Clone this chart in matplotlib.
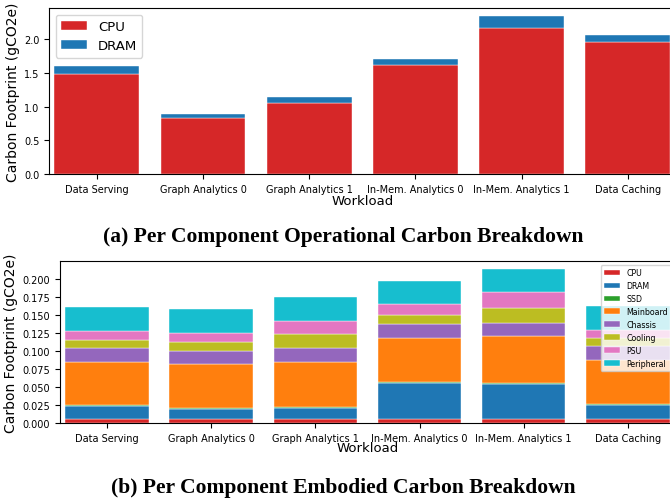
import numpy as np
import matplotlib.pyplot as plt

# --------------------------------------------------
# Carbon footprint per workload (gCO2e)
# --------------------------------------------------

workloads = [
    "Data Serving",
    "Graph Analytics 0",
    "Graph Analytics 1",
    "In-Mem. Analytics 0",
    "In-Mem. Analytics 1",
    "Data Caching"
]

# Operational carbon
op_cpu = [1.49, 0.835, 1.06, 1.615, 2.175, 1.96]
op_dram = [0.11, 0.05, 0.09, 0.095, 0.175, 0.105]

# Embodied carbon, one list per component (bottom to top)
emb_cpu = [0.006, 0.006, 0.006, 0.006, 0.006, 0.006]
emb_dram = [0.018, 0.0133, 0.0147, 0.0501, 0.0483, 0.0197]
emb_ssd = [0.001, 0.0014, 0.0018, 0.0014, 0.0009, 0.001]
emb_mainboard = [0.0605, 0.0616, 0.063, 0.0611, 0.0653, 0.0611]
emb_chassis = [0.0189, 0.0179, 0.0189, 0.0189, 0.0193, 0.0189]
emb_cooling = [0.0115, 0.0129, 0.0193, 0.0133, 0.0202, 0.0115]
emb_psu = [0.0128, 0.0124, 0.0179, 0.0143, 0.0221, 0.0119]
emb_peripheral = [0.0327, 0.0331, 0.0331, 0.0331, 0.0326, 0.0322]

components = ["CPU", "DRAM", "SSD", "Mainboard", "Chassis",
              "Cooling", "PSU", "Peripheral"]
comp_colors = ["tab:red", "tab:blue", "tab:green", "tab:orange",
               "tab:purple", "tab:olive", "tab:pink", "tab:cyan"]
embodied = [emb_cpu, emb_dram, emb_ssd, emb_mainboard, emb_chassis,
            emb_cooling, emb_psu, emb_peripheral]

x = np.arange(len(workloads))
bar_kw = dict(width=0.8, edgecolor="white", linewidth=0.3)

fig = plt.figure(figsize=(6.7, 5.02), dpi=100)

# --------------------------------------------------
# (a) operational carbon
# --------------------------------------------------
ax1 = fig.add_axes([49 / 670, 327 / 502, 626.6 / 670, 166 / 502])
ax1.bar(x, op_cpu, color="tab:red", label="CPU", **bar_kw)
ax1.bar(x, op_dram, bottom=op_cpu, color="tab:blue", label="DRAM", **bar_kw)
ax1.set_xlim(-0.45, 5.45)
ax1.set_xticks(x)
ax1.set_xticklabels(workloads, fontsize=7)
ax1.tick_params(axis="y", labelsize=7)
ax1.set_yticks([0.0, 0.5, 1.0, 1.5, 2.0])
ax1.set_xlabel("Workload", fontsize=9.5, labelpad=0)
ax1.set_ylabel("Carbon Footprint (gCO2e)", fontsize=10, labelpad=3)
ax1.legend(loc="upper left", fontsize=9.5)

# --------------------------------------------------
# (b) embodied carbon
# --------------------------------------------------
ax2 = fig.add_axes([60 / 670, 78 / 502, 614.8 / 670, 162 / 502])
bottom = np.zeros(len(workloads))
for name, vals, col in zip(components, embodied, comp_colors):
    ax2.bar(x, vals, bottom=bottom, color=col, label=name, **bar_kw)
    bottom += np.array(vals)
ax2.set_xlim(-0.45, 5.45)
ax2.set_xticks(x)
ax2.set_xticklabels(workloads, fontsize=7)
ax2.set_yticks(np.arange(0, 0.201, 0.025))
ax2.set_yticklabels(["%.3f" % v for v in np.arange(0, 0.201, 0.025)])
ax2.tick_params(axis="y", labelsize=7)
ax2.set_xlabel("Workload", fontsize=9.5, labelpad=-1)
ax2.set_ylabel("Carbon Footprint (gCO2e)", fontsize=10, labelpad=3)
ax2.legend(loc="upper right", fontsize=5.7)

# captions
fig.text(343 / 670, 1 - 237 / 502,
         "(a) Per Component Operational Carbon Breakdown",
         ha="center", va="center", fontsize=15.5, fontweight="bold",
         family="Liberation Serif")
fig.text(343 / 670, 1 - 488 / 502,
         "(b) Per Component Embodied Carbon Breakdown",
         ha="center", va="center", fontsize=15.5, fontweight="bold",
         family="Liberation Serif")

fig.savefig("out.png", dpi=100)
